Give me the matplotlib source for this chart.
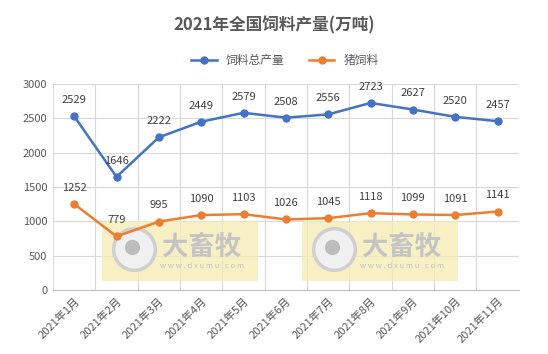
import numpy as np
import matplotlib.pyplot as plt

plt.rcParams['font.family'] = ['Noto Sans CJK SC', 'DejaVu Sans']

# data
months = ['2021年1月', '2021年2月', '2021年3月', '2021年4月', '2021年5月', '2021年6月',
          '2021年7月', '2021年8月', '2021年9月', '2021年10月', '2021年11月']
total_feed = [2529, 1646, 2222, 2449, 2579, 2508, 2556, 2723, 2627, 2520, 2457]
pig_feed = [1252, 779, 995, 1090, 1103, 1026, 1045, 1118, 1099, 1091, 1141]

blue = '#4472C4'
orange = '#ED7D31'
grid_c = '#D9D9D9'
txt_c = '#595959'

fig = plt.figure(figsize=(5.48, 3.54), dpi=100)
ax = fig.add_axes([0.0967, 0.181, 0.850, 0.582])

x = np.arange(len(months))
ax.plot(x, total_feed, color=blue, lw=1.8, marker='o', ms=5, label='饲料总产量', zorder=4)
ax.plot(x, pig_feed, color=orange, lw=1.8, marker='o', ms=5, label='猪饲料', zorder=4)

for xi, v in zip(x, total_feed):
    ax.annotate(str(v), (xi, v), xytext=(0, 8), textcoords='offset points',
                ha='center', va='bottom', fontsize=8, color='#404040', zorder=5)
for xi, v in zip(x, pig_feed):
    ax.annotate(str(v), (xi, v), xytext=(0, 8), textcoords='offset points',
                ha='center', va='bottom', fontsize=8, color='#404040', zorder=5)

ax.set_xlim(-0.5, len(months) - 0.5)
ax.set_ylim(0, 3000)
ax.set_yticks(np.arange(0, 3001, 500))
ax.set_xticks(x)
ax.set_xticklabels(months, rotation=45, ha='right', rotation_mode='anchor')
ax.tick_params(length=0, labelsize=8, colors=txt_c, pad=4)

# horizontal grid + vertical lines at category borders
ax.set_xticks(np.arange(-0.5, len(months)), minor=True)
ax.grid(axis='y', color=grid_c, lw=0.8)
ax.grid(axis='x', which='minor', color=grid_c, lw=0.8)
ax.tick_params(which='minor', length=0)
for s in ['top', 'right', 'left']:
    ax.spines[s].set_visible(False)
ax.spines['bottom'].set_color('#BFBFBF')
ax.set_axisbelow(True)

# watermark boxes
for x0 in [0.66, 5.38]:
    ax.fill_between([x0, x0 + 3.68], 131, 1005, facecolor='#F5EBB0', alpha=0.75,
                    edgecolor='none', zorder=2)
    ax.plot(x0 + 0.75, 597, marker='o', ms=30, mfc='#F0F0F0', mec='#CFCFCF', mew=2.5, zorder=3)
    ax.plot(x0 + 0.7, 620, marker='o', ms=11, mfc='#BDBDBD', mec='none', zorder=3)
    ax.text(x0 + 2.36, 620, '大畜牧', fontsize=19, fontweight='bold', color='#C4C4C4',
            ha='center', va='center', zorder=3)
    ax.text(x0 + 2.36, 345, 'w w w . d x u m u . c o m', fontsize=5.5, color='#C4C4C4',
            ha='center', va='center', zorder=3)

fig.suptitle('2021年全国饲料产量(万吨)', y=0.955, fontsize=12, fontweight='bold', color=txt_c)
leg = fig.legend(loc='center', bbox_to_anchor=(0.52, 0.828), ncol=2, frameon=False,
                 fontsize=8.5, handlelength=2.2, columnspacing=2.0)
for t in leg.get_texts():
    t.set_color(txt_c)

fig.savefig('out.png', dpi=100)
